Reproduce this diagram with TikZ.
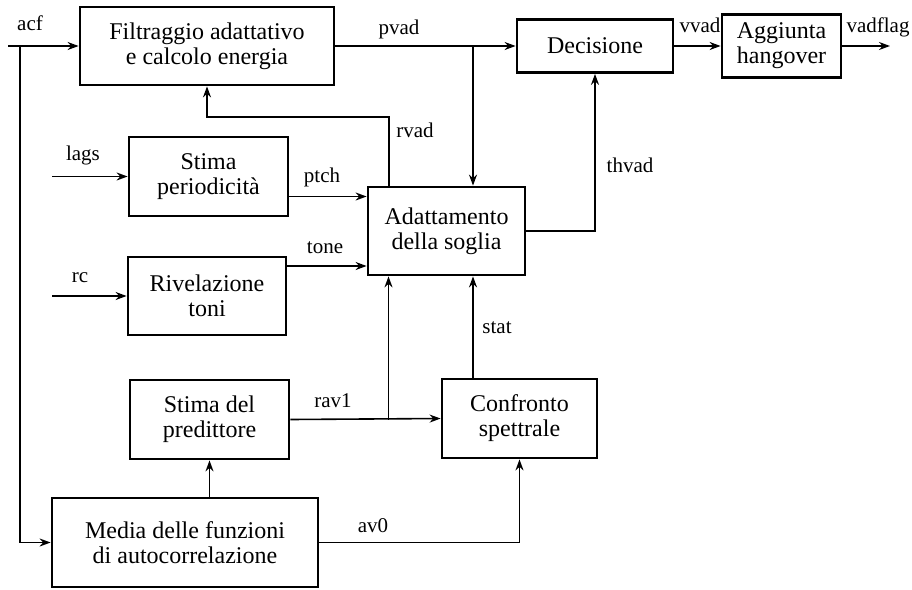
\documentclass[tikz,border=0pt]{standalone}
\usepackage{fontspec}
\setmainfont{Liberation Serif}
\usetikzlibrary{arrows.meta,positioning}

\begin{document}
\begin{tikzpicture}[x=1pt, y=-1pt,
    blk/.style={draw, line width=2.8pt, align=center, inner sep=0pt, font=\fontsize{24}{25}\selectfont},
    lbl/.style={anchor=base, inner sep=0pt, font=\fontsize{21}{22}\selectfont},
    arr/.style={line width=1.6pt, -{Stealth[length=11pt,width=8pt]}}]
  \useasboundingbox (0,0) rectangle (912,589);

  % blocchi
  \node[blk, minimum width=254pt, minimum height=78pt] (filt) at (207,46) {Filtraggio adattativo\\e calcolo energia};
  \node[blk, minimum width=156pt, minimum height=53pt] (dec) at (595,46) {Decisione};
  \node[blk, minimum width=119pt, minimum height=63pt] (hang) at (781.5,46) {Aggiunta\\hangover};
  \node[blk, minimum width=159pt, minimum height=79pt] (per) at (208.5,176.5) {Stima\\periodicità};
  \node[blk, minimum width=158pt, minimum height=78pt] (ton) at (207,296) {Rivelazione\\toni};
  \node[blk, minimum width=157pt, minimum height=88pt] (soglia) at (446.5,231) {Adattamento\\della soglia};
  \node[blk, minimum width=159pt, minimum height=79pt] (pred) at (209.5,419.5) {Stima del\\predittore};
  \node[blk, minimum width=155pt, minimum height=79pt] (conf) at (519.5,418.5) {Confronto\\spettrale};
  \node[blk, minimum width=266pt, minimum height=89pt] (media) at (185,542.5) {Media delle funzioni\\di autocorrelazione};

  % ingressi e uscita
  \coordinate (acfin) at (8,46);
  \coordinate (acfsplit) at (20,46);
  \coordinate (lagsin) at (52,176.5);
  \coordinate (rcin) at (52,296);
  \coordinate (vadout) at (890,46);
  \coordinate (rv) at (207,117);

  % collegamenti
  \draw[arr] (acfin) -- (filt.west);
  \draw[arr] (acfsplit) |- (media.west);
  \draw[arr] (filt.east) -- (dec.west);
  \draw[arr] ([xshift=26.5pt]soglia.north |- filt.east) -- ([xshift=26.5pt]soglia.north);
  \draw[arr] (dec.east) -- (hang.west);
  \draw[arr] (hang.east) -- (vadout);
  \draw[arr] ([xshift=-57.5pt]soglia.north) |- (rv) -- (filt.south);
  \draw[arr] (lagsin) -- (per.west);
  \draw[arr] (rcin) -- (ton.west);
  \draw[arr] ([yshift=-20pt]per.east) -- ([yshift=-20pt]per.east -| soglia.west);
  \draw[arr] ([yshift=30pt]ton.east) -- ([yshift=30pt]ton.east -| soglia.west);
  \draw[arr] (soglia.east) -| (dec.south);
  \draw[arr] (pred.east) -- (conf.west);
  \draw[arr] ([xshift=-58pt]soglia.south |- pred.east) -- ([xshift=-58pt]soglia.south);
  \draw[arr] ([xshift=26.5pt]soglia.south |- conf.north) -- ([xshift=26.5pt]soglia.south);
  \draw[arr] (media.north -| pred.south) -- (pred.south);
  \draw[arr] (media.east) -| (conf.south);

  % etichette dei segnali
  \node[lbl] (lacf) at (30,30) {acf};
  \node[lbl] (lpvad) at (399,34) {pvad};
  \node[lbl] (lvvad) at (700,32) {vvad};
  \node[lbl] (lvadflag) at (878,32) {vadflag};
  \node[lbl] (lrvad) at (415,137) {rvad};
  \node[lbl] (llags) at (83,160) {lags};
  \node[lbl] (lrc) at (80,282) {rc};
  \node[lbl] (lptch) at (322,182) {ptch};
  \node[lbl] (ltone) at (325,253) {tone};
  \node[lbl] (lthvad) at (630,172) {thvad};
  \node[lbl] (lstat) at (497,333) {stat};
  \node[lbl] (lrav) at (333,407) {rav1};
  \node[lbl] (lav) at (373,532) {av0};
\end{tikzpicture}
\end{document}
